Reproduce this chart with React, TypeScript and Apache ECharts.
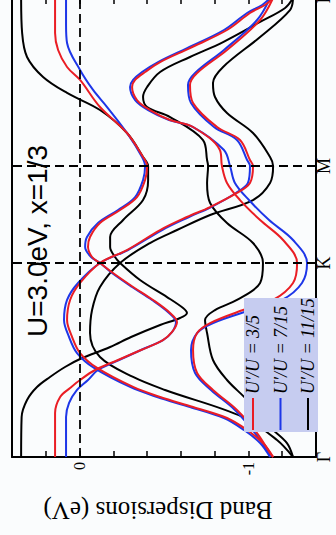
import React, { useEffect, useRef } from "react";
import * as echarts from "echarts";

// k-path positions (Γ–K–M–Γ) and labels
const kPositions = [0, 2, 3, 4.732];
const kLabels = ["Γ", "K", "M", "Γ"];
const energyLabels: Record<string, string> = { "0": "0", "-10": "-1" };

const legendNames = ["U′/U = 3/5", "U′/U = 7/15", "U′/U = 11/15"];

// bands as [k, E(eV)] for U'/U = 3/5 (red)
const redA: [number, number][] = [
  [0, 0.145], [0.454, 0.145], [0.619, 0.115], [0.711, 0.056], [0.794, -0.003], [0.897, -0.092],
  [1.0, -0.228], [1.103, -0.364], [1.206, -0.494], [1.289, -0.548], [1.392, -0.577], [1.485, -0.536],
  [1.619, -0.435], [1.753, -0.317], [1.897, -0.198], [2.0, -0.121], [2.062, -0.074], [2.165, -0.05],
  [2.268, -0.062], [2.412, -0.121], [2.546, -0.24], [2.68, -0.34], [2.856, -0.388], [3.0, -0.4],
  [3.093, -0.376], [3.34, -0.281], [3.608, -0.121], [3.887, -0.003], [4.021, 0.074], [4.196, 0.127],
  [4.371, 0.145], [4.732, 0.145],
];
const redP: [number, number][] = [
  [0, -1.146], [0.041, -1.128], [0.247, -1.051], [0.485, -0.932], [0.691, -0.79], [0.866, -0.696],
  [1.103, -0.672], [1.278, -0.696], [1.381, -0.773], [1.515, -0.968], [1.619, -1.146], [1.794, -1.264],
  [2.0, -1.288], [2.237, -1.205], [2.443, -1.069], [2.649, -0.95], [2.825, -0.873], [3.0, -0.843],
  [3.165, -0.831], [3.402, -0.672], [3.474, -0.536], [3.577, -0.417], [3.68, -0.34], [3.814, -0.311],
  [3.887, -0.329], [3.969, -0.388], [4.072, -0.477], [4.216, -0.654], [4.402, -0.873], [4.577, -1.009],
  [4.66, -1.098], [4.732, -1.146],
];
const redQ: [number, number][] = [
  [0, -1.146], [0.144, -1.086], [0.278, -0.992], [0.402, -0.873], [0.515, -0.672], [0.619, -0.477],
  [0.722, -0.317], [0.918, -0.104], [1.072, -0.003], [1.237, 0.044], [1.412, 0.074], [1.619, 0.056],
  [1.794, -0.003], [2.0, -0.121], [2.134, -0.281], [2.34, -0.477], [2.474, -0.636], [2.577, -0.773],
  [2.722, -0.932], [2.825, -1.009], [3.0, -1.027], [3.062, -1.009], [3.268, -0.95], [3.402, -0.814],
  [3.649, -0.672], [3.835, -0.654], [3.959, -0.696], [4.196, -0.873], [4.505, -1.069], [4.732, -1.146],
];

// U'/U = 7/15 (blue)
const blueA: [number, number][] = [
  [0, 0.08], [0.412, 0.08], [0.557, 0.062], [0.691, 0.015], [0.794, -0.05], [0.897, -0.109],
  [1.0, -0.234], [1.103, -0.364], [1.206, -0.494], [1.289, -0.548], [1.392, -0.571], [1.485, -0.53],
  [1.619, -0.429], [1.753, -0.311], [1.897, -0.192], [2.0, -0.121], [2.062, -0.068], [2.165, -0.033],
  [2.268, -0.044], [2.412, -0.109], [2.546, -0.228], [2.68, -0.329], [2.856, -0.376], [3.0, -0.388],
  [3.093, -0.37], [3.34, -0.281], [3.608, -0.163], [3.784, -0.08], [3.99, -0.003], [4.268, 0.074],
  [4.454, 0.08], [4.732, 0.08],
];
const blueP: [number, number][] = [
  [0, -1.128], [0.041, -1.122], [0.247, -1.039], [0.485, -0.92], [0.691, -0.778], [0.866, -0.684],
  [1.103, -0.66], [1.278, -0.696], [1.381, -0.791], [1.515, -1.015], [1.619, -1.199], [1.794, -1.317],
  [2.0, -1.347], [2.237, -1.264], [2.443, -1.122], [2.649, -1.003], [2.825, -0.92], [3.0, -0.891],
  [3.165, -0.855], [3.402, -0.672], [3.474, -0.53], [3.577, -0.406], [3.68, -0.329], [3.814, -0.299],
  [3.887, -0.317], [3.969, -0.37], [4.072, -0.465], [4.216, -0.637], [4.402, -0.855], [4.577, -0.992],
  [4.66, -1.081], [4.732, -1.128],
];
const blueQ: [number, number][] = [
  [0, -1.128], [0.144, -1.069], [0.278, -0.974], [0.402, -0.855], [0.515, -0.654], [0.619, -0.459],
  [0.722, -0.299], [0.918, -0.086], [1.072, 0.015], [1.237, 0.062], [1.412, 0.092], [1.619, 0.074],
  [1.794, 0.009], [2.0, -0.121], [2.134, -0.287], [2.34, -0.489], [2.474, -0.648], [2.577, -0.779],
  [2.722, -0.926], [2.825, -0.997], [3.0, -1.009], [3.062, -0.992], [3.268, -0.932], [3.402, -0.796],
  [3.649, -0.66], [3.835, -0.642], [3.959, -0.684], [4.196, -0.855], [4.505, -1.051], [4.732, -1.128],
];

// U'/U = 11/15 (black)
const blackA: [number, number][] = [
  [0, 0.346], [0.412, 0.343], [0.588, 0.311], [0.722, 0.252], [0.825, 0.175], [0.928, 0.086],
  [1.01, -0.003], [1.134, -0.181], [1.237, -0.305], [1.361, -0.477], [1.433, -0.595], [1.485, -0.636],
  [1.536, -0.613], [1.649, -0.518], [1.825, -0.358], [2.0, -0.24], [2.062, -0.21], [2.165, -0.181],
  [2.268, -0.181], [2.443, -0.258], [2.649, -0.376], [2.856, -0.406], [3.0, -0.406], [3.093, -0.376],
  [3.34, -0.281], [3.577, -0.121], [3.753, 0.074], [3.918, 0.216], [4.124, 0.311], [4.371, 0.34],
  [4.732, 0.346],
];
const blackP: [number, number][] = [
  [0, -1.264], [0.144, -1.228], [0.309, -1.128], [0.588, -0.992], [0.794, -0.873], [1.0, -0.79],
  [1.278, -0.755], [1.412, -0.743], [1.515, -0.802], [1.619, -0.932], [1.794, -1.069], [2.0, -1.086],
  [2.206, -1.027], [2.412, -0.873], [2.619, -0.773], [2.825, -0.755], [3.0, -0.761], [3.062, -0.755],
  [3.268, -0.731], [3.505, -0.536], [3.608, -0.4], [3.711, -0.376], [3.814, -0.4], [3.969, -0.477],
  [4.124, -0.654], [4.278, -0.85], [4.485, -1.069], [4.629, -1.217], [4.732, -1.264],
];
const blackQ: [number, number][] = [
  [0, -1.264], [0.175, -1.169], [0.412, -0.968], [0.691, -0.506], [0.825, -0.317], [1.031, -0.121],
  [1.278, -0.062], [1.515, -0.074], [1.753, -0.121], [2.0, -0.24], [2.206, -0.417], [2.34, -0.577],
  [2.495, -0.773], [2.649, -1.027], [2.825, -1.128], [3.0, -1.146], [3.093, -1.128], [3.34, -1.027],
  [3.546, -0.873], [3.711, -0.802], [3.856, -0.79], [4.021, -0.85], [4.33, -1.069], [4.608, -1.246],
  [4.732, -1.264],
];

const RED = "#ea1d24";
const BLUE = "#1d36e8";
const BLACK = "#000000";

export default function App() {
  const ref = useRef<HTMLDivElement>(null);
  useEffect(() => {
    if (!ref.current) return;
    const chart = echarts.init(ref.current, undefined, { renderer: "svg" });
    const mk = (data: [number, number][], color: string, extra: any = {}) => ({
      type: "line",
      data: data.map(([k, e]) => [e, k]),
      xAxisIndex: 0,
      yAxisIndex: 0,
      showSymbol: false,
      symbol: "none",
      smooth: 0.35,
      lineStyle: { color, width: 2 },
      itemStyle: { color },
      silent: true,
      ...extra,
    });
    const serif = '"Liberation Serif", "Times New Roman", serif';
    const axisCommon = {
      type: "value",
      min: -1.4,
      max: 0.4,
      interval: 0.2,
      inverse: true,
      splitLine: { show: false },
      axisLine: { show: true, onZero: false, lineStyle: { color: "#000", width: 2 } },
      axisTick: { show: true, inside: true, length: 6, lineStyle: { color: "#000", width: 1.5 } },
    };
    chart.setOption({
      animation: false,
      backgroundColor: "#fafcfd",
      grid: { left: 12, right: 20, top: -2, bottom: 78, containLabel: false, outerBoundsMode: "none" },
      xAxis: [
        {
          ...axisCommon,
          position: "bottom",
          axisLabel: {
            show: true,
            rotate: 90,
            margin: 5,
            color: "#000",
            fontSize: 16,
            fontFamily: serif,
            formatter: (v: number) => energyLabels[String(Math.round(v * 10))] ?? "",
          },
        },
        {
          ...axisCommon,
          position: "top",
          axisLabel: { show: false },
        },
      ],
      yAxis: [
        {
          type: "value",
          min: 0,
          max: 4.732,
          position: "right",
          splitLine: { show: false },
          axisLine: { show: true, onZero: false, lineStyle: { color: "#000", width: 2 } },
          axisTick: { show: false },
          axisLabel: {
            show: true,
            customValues: kPositions,
            rotate: 90,
            margin: -1,
            color: "#000",
            fontSize: 18,
            fontFamily: serif,
            formatter: (v: number) => {
              const i = kPositions.findIndex((p) => Math.abs(p - v) < 1e-6);
              return i >= 0 ? kLabels[i] : "";
            },
          },
        },
        {
          type: "value",
          min: 0,
          max: 4.732,
          position: "left",
          splitLine: { show: false },
          axisLine: { show: true, onZero: false, lineStyle: { color: "#000", width: 2 } },
          axisTick: { show: false },
          axisLabel: { show: false },
        },
      ],
      series: [
        mk(blackA, BLACK, {
          markLine: {
            silent: true,
            symbol: ["none", "none"],
            label: { show: false },
            lineStyle: { color: "#000", width: 1.8, type: [9, 5] },
            data: [{ xAxis: 0 }, { yAxis: kPositions[1] }, { yAxis: kPositions[2] }],
          },
        }),
        mk(blackP, BLACK),
        mk(blackQ, BLACK),
        mk(blueA, BLUE),
        mk(blueP, BLUE),
        mk(blueQ, BLUE),
        mk(redA, RED),
        mk(redP, RED),
        mk(redQ, RED),
      ],
      graphic: [
        {
          type: "text",
          x: 37,
          y: 337,
          rotation: Math.PI / 2,
          style: {
            text: "U=3.0eV, x=1/3",
            fontSize: 28,
            fontFamily: '"Liberation Sans", Arial, sans-serif',
            fill: "#000",
            align: "left",
            verticalAlign: "middle",
          },
        },
        {
          type: "text",
          x: 158,
          y: 510,
          rotation: Math.PI,
          style: {
            text: "Band Dispersions (eV)",
            fontSize: 25,
            fontFamily: serif,
            fill: "#000",
            align: "center",
            verticalAlign: "middle",
          },
        },
        {
          type: "rect",
          shape: { x: 244, y: 298, width: 74, height: 134 },
          style: { fill: "#c6ccf0" },
          z: 10,
        },
        ...[RED, BLUE, BLACK].flatMap((c, i) => {
          const x = 253 + i * 27.5;
          return [
            {
              type: "line",
              shape: { x1: x, y1: 398, x2: x, y2: 430 },
              style: { stroke: c, lineWidth: 2 },
              z: 11,
            },
            {
              type: "text",
              x: x,
              y: 394,
              rotation: Math.PI / 2,
              z: 11,
              style: {
                text: legendNames[i],
                fontSize: 18,
                fontStyle: "italic",
                fontFamily: serif,
                fill: "#000",
                align: "left",
                verticalAlign: "middle",
              },
            },
          ];
        }),
      ],
    });
    return () => chart.dispose();
  }, []);
  return (
    <div
      ref={ref}
      style={{ position: "fixed", left: 0, top: 0, width: 336, height: 535 }}
    />
  );
}
